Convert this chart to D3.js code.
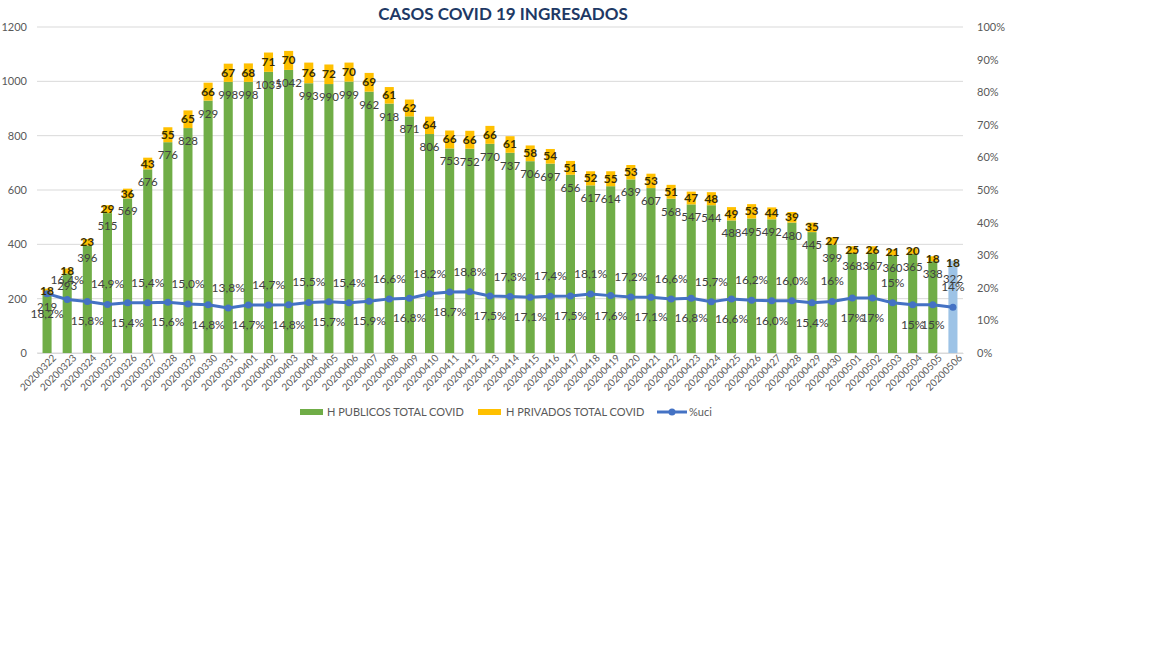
<!DOCTYPE html>
<html>
<head>
<meta charset="utf-8">
<script src="https://cdn.jsdelivr.net/npm/d3@7"></script>
<style>
  body { margin: 0; background: #fff; }
  text { font-family: Lato, "Open Sans", sans-serif; }
</style>
</head>
<body>
<div id="chart"></div>
<script>
// data
var dates = ["20200322","20200323","20200324","20200325","20200326","20200327","20200328","20200329","20200330","20200331",
  "20200401","20200402","20200403","20200404","20200405","20200406","20200407","20200408","20200409","20200410",
  "20200411","20200412","20200413","20200414","20200415","20200416","20200417","20200418","20200419","20200420",
  "20200421","20200422","20200423","20200424","20200425","20200426","20200427","20200428","20200429","20200430",
  "20200501","20200502","20200503","20200504","20200505","20200506"];
var publicos = [219,293,396,515,569,676,776,828,929,998,
  998,1035,1042,993,990,999,962,918,871,806,
  753,752,770,737,706,697,656,617,614,639,
  607,568,547,544,488,495,492,480,445,399,
  368,367,360,365,338,322];
var privados = [18,18,23,29,36,43,55,65,66,67,
  68,71,70,76,72,70,69,61,62,64,
  66,66,66,61,58,54,51,52,55,53,
  53,51,47,48,49,53,44,39,35,27,
  25,26,21,20,18,18];
var uci = [18.2,16.4,15.8,14.9,15.4,15.4,15.6,15.0,14.8,13.8,
  14.7,14.7,14.8,15.5,15.7,15.4,15.9,16.6,16.8,18.2,
  18.7,18.8,17.5,17.3,17.1,17.4,17.5,18.1,17.6,17.2,
  17.1,16.6,16.8,15.7,16.6,16.2,16.0,16.0,15.4,15.8,
  16.9,16.9,15.4,14.8,14.8,14.0];
var leftTicks = [0,200,400,600,800,1000,1200];
var rightTicks = [0,10,20,30,40,50,60,70,80,90,100];
var seriesNames = ["H PUBLICOS TOTAL COVID","H PRIVADOS TOTAL COVID","%uci"];

var W = 1152, H = 648;
var green = "#70AD47", yellow = "#FFC000", blue = "#4472C4", lastBlue = "#9DC3E6";

var svg = d3.select("#chart").append("svg")
    .attr("width", W)
    .attr("height", H);
svg.append("rect").attr("width", W).attr("height", H).attr("fill", "#fff");

var x = d3.scaleBand().domain(dates).range([37, 963]).paddingInner(0.55).paddingOuter(0.275);
var yL = d3.scaleLinear().domain([0, 1200]).range([353, 27]);
var yR = d3.scaleLinear().domain([0, 100]).range([353, 27]);

// gridlines
svg.append("g").selectAll("line")
    .data(leftTicks)
    .enter().append("line")
    .attr("x1", 37).attr("x2", 963)
    .attr("y1", d => yL(d)).attr("y2", d => yL(d))
    .attr("stroke", "#d9d9d9").attr("stroke-width", 1);

// left axis
var axL = svg.append("g")
    .attr("transform", "translate(31,0)")
    .call(d3.axisLeft(yL).tickValues(leftTicks).tickSize(0).tickPadding(4).tickFormat(d3.format("d")));
axL.select(".domain").remove();
axL.selectAll("text").attr("fill", "#595959").style("font-size", "11px");

// right axis
var axR = svg.append("g")
    .attr("transform", "translate(973,0)")
    .call(d3.axisRight(yR).tickValues(rightTicks).tickSize(0).tickPadding(4).tickFormat(d => d + "%"));
axR.select(".domain").remove();
axR.selectAll("text").attr("fill", "#595959").style("font-size", "11px");

// x axis
var axX = svg.append("g")
    .attr("transform", "translate(0,353)")
    .call(d3.axisBottom(x).tickSize(0).tickPadding(6));
axX.select(".domain").attr("stroke", "#d9d9d9");
axX.selectAll("text")
    .attr("fill", "#595959")
    .style("font-size", "10px")
    .style("text-anchor", "end")
    .attr("dx", "0.3em")
    .attr("dy", "0.5em")
    .attr("transform", "rotate(-45)");

// stacked bars
var rows = dates.map((d, i) => ({ date: d, pub: publicos[i], priv: privados[i], i: i }));
var stack = d3.stack().keys(["pub", "priv"])(rows);
var last = dates.length - 1;

svg.append("g").selectAll("g")
    .data(stack)
    .enter().append("g")
    .attr("fill", (s, k) => k === 0 ? green : yellow)
    .selectAll("rect")
    .data(s => s)
    .enter().append("rect")
    .attr("x", d => x(d.data.date))
    .attr("width", x.bandwidth())
    .attr("y", d => yL(d[1]))
    .attr("height", d => yL(d[0]) - yL(d[1]))
    .attr("fill", d => d.data.i === last ? lastBlue : null);

// line
var line = d3.line()
    .x((d, i) => x(dates[i]) + x.bandwidth() / 2)
    .y(d => yR(d));
svg.append("path")
    .datum(uci)
    .attr("d", line)
    .attr("fill", "none")
    .attr("stroke", blue)
    .attr("stroke-width", 3)
    .attr("stroke-linejoin", "round");
svg.append("g").selectAll("circle")
    .data(uci)
    .enter().append("circle")
    .attr("cx", (d, i) => x(dates[i]) + x.bandwidth() / 2)
    .attr("cy", d => yR(d))
    .attr("r", 3.5)
    .attr("fill", blue);

// bar labels
svg.append("g").selectAll("text")
    .data(rows)
    .enter().append("text")
    .attr("x", d => x(d.date) + x.bandwidth() / 2)
    .attr("y", d => yL(d.pub) + 17)
    .attr("text-anchor", "middle")
    .attr("fill", "#404040")
    .style("font-size", "11.5px")
    .text(d => d.pub);
svg.append("g").selectAll("text")
    .data(rows)
    .enter().append("text")
    .attr("x", d => x(d.date) + x.bandwidth() / 2)
    .attr("y", d => yL(d.pub + d.priv / 2) + 4)
    .attr("text-anchor", "middle")
    .attr("fill", "#3a2f00")
    .style("font-size", "12px")
    .style("font-weight", "bold")
    .text(d => d.priv);

// percent labels, alternating above / below the line
var forceBelow = [41, 43];
var forceAbove = [42];
svg.append("g").selectAll("text")
    .data(uci)
    .enter().append("text")
    .attr("x", (d, i) => x(dates[i]) + x.bandwidth() / 2)
    .attr("y", (d, i) => {
        var below = i % 2 === 0;
        if (forceBelow.indexOf(i) >= 0) below = true;
        if (forceAbove.indexOf(i) >= 0) below = false;
        return yR(d) + (below ? 24 : -16);
    })
    .attr("text-anchor", "middle")
    .attr("fill", "#404040")
    .style("font-size", "12px")
    .text((d, i) => i < 39 ? d.toFixed(1).replace(".", ",") + "%" : Math.round(d) + "%");

// title
svg.append("text")
    .attr("x", 503)
    .attr("y", 20)
    .attr("text-anchor", "middle")
    .attr("fill", "#203864")
    .style("font-size", "17px")
    .style("font-weight", "bold")
    .text("CASOS COVID 19 INGRESADOS");

// legend
var lg = svg.append("g").attr("transform", "translate(0,412)");
lg.append("rect").attr("x", 300).attr("y", -3).attr("width", 23).attr("height", 6).attr("fill", green);
lg.append("text").attr("x", 327).attr("y", 4).attr("fill", "#595959").style("font-size", "11px").text(seriesNames[0]);
lg.append("rect").attr("x", 478).attr("y", -3).attr("width", 23).attr("height", 6).attr("fill", yellow);
lg.append("text").attr("x", 506).attr("y", 4).attr("fill", "#595959").style("font-size", "11px").text(seriesNames[1]);
lg.append("line").attr("x1", 657).attr("x2", 687).attr("y1", 0).attr("y2", 0).attr("stroke", blue).attr("stroke-width", 3);
lg.append("circle").attr("cx", 672).attr("cy", 0).attr("r", 3.5).attr("fill", blue);
lg.append("text").attr("x", 689).attr("y", 4).attr("fill", "#595959").style("font-size", "11px").text(seriesNames[2]);
</script>
</body>
</html>
